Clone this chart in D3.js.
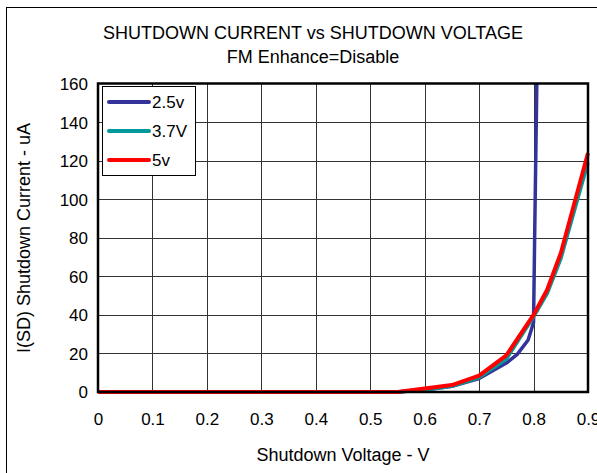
<!DOCTYPE html>
<html>
<head>
<meta charset="utf-8">
<script src="https://cdn.jsdelivr.net/npm/d3@7"></script>
<style>
html,body{margin:0;padding:0;background:#fff;}
svg{display:block;font-family:"Liberation Sans",Arial,sans-serif;}
</style>
</head>
<body>
<svg id="chart" width="597" height="473"></svg>
<script>
// ---- data ----
const seriesNames = ["2.5v", "3.7V", "5v"];
const seriesColors = ["#333399", "#009999", "#ff0000"];
const v25 = [[0,0],[0.1,0],[0.2,0],[0.3,0],[0.4,0],[0.5,0],[0.55,0],[0.6,1],[0.65,3],[0.7,7],[0.75,15],[0.77,19.5],[0.79,27],[0.8,36],[0.802,80],[0.806,160]];
const v37 = [[0,0],[0.1,0],[0.2,0],[0.3,0],[0.4,0],[0.5,0],[0.55,0],[0.6,1],[0.65,3],[0.7,7.5],[0.75,17],[0.8,39],[0.825,51],[0.85,69],[0.9,119]];
const v50 = [[0,0],[0.1,0],[0.2,0],[0.3,0],[0.4,0],[0.5,0],[0.55,0],[0.6,1.8],[0.65,3.6],[0.7,8.5],[0.75,19],[0.8,40],[0.825,53],[0.85,72],[0.9,124]];
const xTicks = [0,0.1,0.2,0.3,0.4,0.5,0.6,0.7,0.8,0.9];
const yTicks = [0,20,40,60,80,100,120,140,160];
const titleText = "SHUTDOWN CURRENT vs SHUTDOWN VOLTAGE";
const subtitleText = "FM Enhance=Disable";
const xLabel = "Shutdown Voltage - V";
const yLabel = "I(SD) Shutdown Current - uA";

const svg = d3.select("#chart");
const L = 98, R = 588, T = 83.5, B = 392;
const x = d3.scaleLinear().domain([0,0.9]).range([L,R]);
const y = d3.scaleLinear().domain([0,160]).range([B,T]);

// outer frame
svg.append("rect").attr("x",6.5).attr("y",7.5).attr("width",620).attr("height",500)
  .attr("fill","none").attr("stroke","#000").attr("stroke-width",1);

// gridlines
const grid = svg.append("g");
grid.selectAll("line.v").data(xTicks.slice(1,-1)).join("line")
  .attr("x1",d=>Math.round(x(d))+0.5).attr("x2",d=>Math.round(x(d))+0.5)
  .attr("y1",T).attr("y2",B).attr("stroke","#333").attr("stroke-width",1);
grid.selectAll("line.h").data(yTicks.slice(1,-1)).join("line")
  .attr("y1",d=>Math.round(y(d))+0.5).attr("y2",d=>Math.round(y(d))+0.5)
  .attr("x1",L).attr("x2",R).attr("stroke","#333").attr("stroke-width",1);

// axes (labels only)
const xAxis = d3.axisBottom(x).tickValues(xTicks).tickSize(0).tickPadding(0)
  .tickFormat(d=>d===0?"0":d3.format(".1f")(d));
const gx = svg.append("g").attr("transform",`translate(0,${B})`).call(xAxis);
gx.select(".domain").remove();
gx.selectAll("text").attr("dy",null).attr("y",33).attr("font-size",17)
  .attr("font-family","Liberation Sans, Arial, sans-serif").attr("fill","#000");

const yAxis = d3.axisLeft(y).tickValues(yTicks).tickSize(0).tickPadding(0);
const gy = svg.append("g").attr("transform",`translate(${L},0)`).call(yAxis);
gy.select(".domain").remove();
gy.selectAll("text").attr("x",-10).attr("dy","0.35em").attr("font-size",17)
  .attr("font-family","Liberation Sans, Arial, sans-serif").attr("fill","#000");

// clip
svg.append("clipPath").attr("id","clip").append("rect")
  .attr("x",L-3).attr("y",T).attr("width",R-L+6).attr("height",B-T+3);

const line = d3.line().x(d=>x(d[0])).y(d=>y(d[1]));
const all = [v25, v37, v50];
const widths = [3.5, 3.5, 4];
const lg = svg.append("g").attr("clip-path","url(#clip)");
all.forEach((s,i)=>{
  lg.append("path").datum(s).attr("d",line).attr("fill","none")
    .attr("stroke",seriesColors[i]).attr("stroke-width",widths[i])
    .attr("stroke-linejoin","round").attr("stroke-linecap","butt");
});

// plot border
svg.append("rect").attr("x",L).attr("y",T).attr("width",R-L).attr("height",B-T)
  .attr("fill","none").attr("stroke","#000").attr("stroke-width",2.5);

// legend
const leg = svg.append("g");
leg.append("rect").attr("x",102.5).attr("y",86.5).attr("width",93).attr("height",89)
  .attr("fill","#fff").attr("stroke","#000").attr("stroke-width",1);
seriesNames.forEach((n,i)=>{
  const yy = 102 + i*29;
  leg.append("line").attr("x1",109).attr("x2",149).attr("y1",yy).attr("y2",yy)
    .attr("stroke",seriesColors[i]).attr("stroke-width",4).attr("stroke-linecap","round");
  leg.append("text").attr("x",152).attr("y",yy).attr("dy","0.36em")
    .attr("font-size",17).attr("fill","#000").text(n);
});

// titles
svg.append("text").attr("x",313).attr("y",38.5).attr("text-anchor","middle")
  .attr("font-size",18).attr("fill","#000").text(titleText);
svg.append("text").attr("x",313).attr("y",62.5).attr("text-anchor","middle")
  .attr("font-size",18).attr("fill","#000").text(subtitleText);
svg.append("text").attr("x",343).attr("y",461).attr("text-anchor","middle")
  .attr("font-size",18).attr("fill","#000").text(xLabel);
svg.append("text").attr("transform","translate(30,238) rotate(-90)").attr("text-anchor","middle")
  .attr("font-size",18).attr("fill","#000").text(yLabel);
</script>
</body>
</html>
